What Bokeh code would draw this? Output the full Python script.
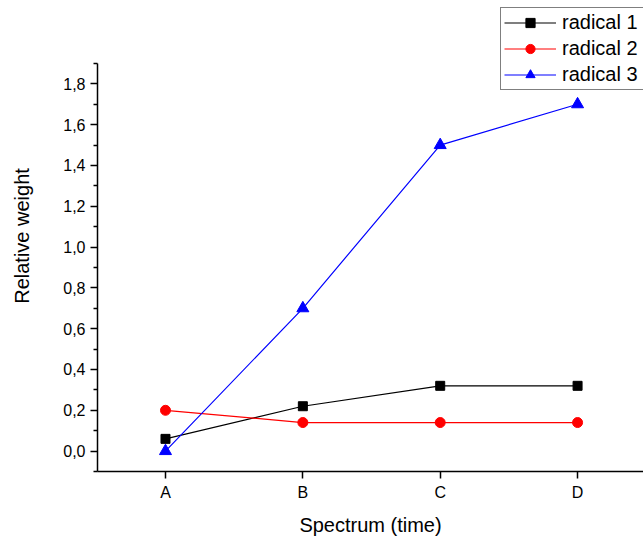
from bokeh.plotting import figure
from bokeh.models import Range1d, FixedTicker, CustomJSTickFormatter, Legend, LegendItem
from bokeh.embed import file_html
from bokeh.resources import INLINE

# ---- data ----
categories = ["A", "B", "C", "D"]
radical1 = [0.06, 0.22, 0.32, 0.32]
radical2 = [0.20, 0.14, 0.14, 0.14]
radical3 = [0.00, 0.70, 1.50, 1.70]
y_ticks = [0.0, 0.2, 0.4, 0.6, 0.8, 1.0, 1.2, 1.4, 1.6, 1.8]
y_minor = [-0.1, 0.1, 0.3, 0.5, 0.7, 0.9, 1.1, 1.3, 1.5, 1.7, 1.9]
y_axis_bounds = (-0.1, 1.9)

xpos = list(range(1, len(categories) + 1))

FONT = "Liberation Sans"

p = figure(width=643, height=538, output_backend="svg", toolbar_location=None,
           x_range=Range1d(0.505, 4.48), y_range=Range1d(-0.1, 2.2088),
           min_border_left=97, min_border_right=0, min_border_top=0, min_border_bottom=67)

p.outline_line_color = None
p.xgrid.visible = False
p.ygrid.visible = False
p.background_fill_color = "white"
p.border_fill_color = "white"

# lines + markers
l1 = p.line(xpos, radical1, line_color="black", line_width=1.2)
s1 = p.scatter(xpos, radical1, marker="square", size=9, fill_color="black", line_color="black")
l2 = p.line(xpos, radical2, line_color="#FF0000", line_width=1.2)
s2 = p.scatter(xpos, radical2, marker="circle", size=10, fill_color="#FF0000", line_color="#FF0000")
l3 = p.line(xpos, radical3, line_color="#0000FF", line_width=1.2)
s3 = p.scatter(xpos, radical3, marker="triangle", size=12, fill_color="#0000FF", line_color="#0000FF")

# x axis
xa = p.xaxis[0]
xa.ticker = FixedTicker(ticks=xpos)
xa.major_label_overrides = {x: c for x, c in zip(xpos, categories)}
xa.minor_tick_line_color = None
xa.axis_label = "Spectrum (time)"

# y axis
ya = p.yaxis[0]
ya.ticker = FixedTicker(ticks=y_ticks, minor_ticks=y_minor)
ya.formatter = CustomJSTickFormatter(code="return tick.toFixed(1).replace('.', ',');")
ya.axis_label = "Relative weight"
ya.bounds = y_axis_bounds

for ax in (xa, ya):
    ax.axis_line_color = "black"
    ax.axis_line_width = 1.5
    ax.major_tick_line_color = "black"
    ax.major_tick_line_width = 1.5
    ax.major_tick_in = 0
    ax.major_tick_out = 7
    ax.minor_tick_in = 0
    ax.minor_tick_out = 4
    ax.minor_tick_line_width = 1.5
    ax.major_label_text_font = FONT
    ax.major_label_text_font_size = "16px"
    ax.major_label_text_color = "black"
    ax.axis_label_text_font = FONT
    ax.axis_label_text_font_size = "20px"
    ax.axis_label_text_font_style = "normal"
    ax.axis_label_text_color = "black"

xa.major_label_standoff = 5
xa.axis_label_standoff = 10
ya.major_label_standoff = 5
ya.axis_label_standoff = 27

legend = Legend(items=[
    LegendItem(label="radical 1", renderers=[l1, s1]),
    LegendItem(label="radical 2", renderers=[l2, s2]),
    LegendItem(label="radical 3", renderers=[l3, s3]),
], location=(403, 381))
legend.padding = 3
legend.spacing = 3
legend.margin = 0
legend.glyph_width = 52
legend.glyph_height = 23
legend.label_height = 23
legend.label_width = 95
legend.label_standoff = 6
legend.label_text_font = FONT
legend.label_text_font_size = "20px"
legend.label_text_color = "black"
legend.border_line_color = "black"
legend.border_line_width = 1
legend.background_fill_color = "white"
legend.background_fill_alpha = 1
p.add_layout(legend, "center")

open("out.html", "w").write(file_html(p, INLINE))
